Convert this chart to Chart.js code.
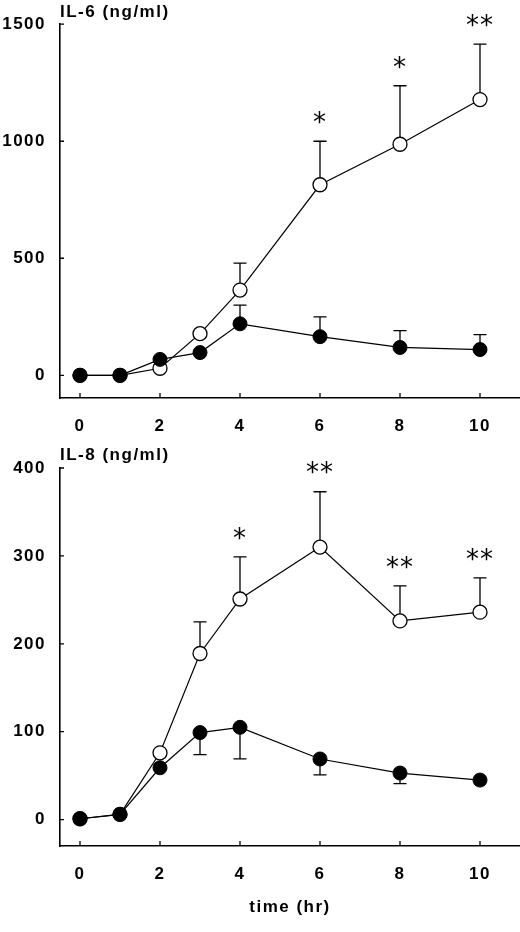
<!DOCTYPE html>
<html>
<head>
<meta charset="utf-8">
<script src="https://cdn.jsdelivr.net/npm/chart.js@4.4.0/dist/chart.umd.min.js"></script>
<style>
body { margin: 0; background: #fff; }
canvas { display: block; }
</style>
</head>
<body>
<canvas id="il6" width="520" height="440"></canvas>
<canvas id="il8" width="520" height="492"></canvas>
<script>
// sampling times (hr)
const times = [0, 1, 2, 3, 4, 6, 8, 10];
const xTicks = [0, 2, 4, 6, 8, 10];

// IL-6 panel
const il6Ticks = [0, 500, 1000, 1500];
const il6Open = [0, 0, 30, 178, 364, 814, 987, 1178];
const il6OpenErr = [0, 0, 0, 0, 115, 186, 250, 237];
const il6Filled = [0, 0, 68, 97, 220, 165, 119, 110];
const il6FilledErr = [0, 0, 0, 0, 80, 85, 72, 64];
const il6Stars = ["", "", "", "", "", "*", "*", "**"];

// IL-8 panel
const il8Ticks = [0, 100, 200, 300, 400];
const il8Open = [1, 6, 76, 189, 251, 310, 226, 236];
const il8OpenErr = [0, 0, 0, 36, 48, 63, 40, 39];
const il8Filled = [1, 6, 59, 99, 105, 69, 53, 45];
const il8FilledErr = [0, 0, 0, 25, 36, 18, 12, 0]; // drawn below the mean
const il8Stars = ["", "", "", "", "*", "**", "**", "**"];

const FONT = "'Liberation Sans', Arial, sans-serif";
const SPACING = "1.5px";

const errBars = {
    id: "errBars",
    beforeUpdate(chart) { chart.ctx.letterSpacing = SPACING; },
    beforeDraw(chart) { chart.ctx.letterSpacing = SPACING; },
    beforeDatasetsDraw(chart, args, opts) {
        const ctx = chart.ctx;
        const xs = chart.scales.x, ys = chart.scales.y;
        const area = chart.chartArea;
        ctx.save();
        ctx.strokeStyle = "#000";
        ctx.lineWidth = 1.3;
        // inward tick marks
        ctx.beginPath();
        xTicks.forEach((v) => {
            const x = xs.getPixelForValue(v);
            ctx.moveTo(x, area.bottom);
            ctx.lineTo(x, area.bottom - 5);
        });
        opts.yTicks.forEach((v) => {
            const y = ys.getPixelForValue(v);
            ctx.moveTo(area.left, y);
            ctx.lineTo(area.left + 4, y);
        });
        ctx.stroke();
        opts.bars.forEach((b) => {
            b.err.forEach((e, i) => {
                if (!e) return;
                const x = xs.getPixelForValue(times[i]);
                const y0 = ys.getPixelForValue(b.vals[i]);
                const y1 = ys.getPixelForValue(b.vals[i] + b.dir * e);
                ctx.beginPath();
                ctx.moveTo(x, y0);
                ctx.lineTo(x, y1);
                ctx.moveTo(x - 6.5, y1);
                ctx.lineTo(x + 6.5, y1);
                ctx.stroke();
            });
        });
        ctx.restore();
    },
    afterDraw(chart, args, opts) {
        const ctx = chart.ctx;
        const xs = chart.scales.x, ys = chart.scales.y;
        ctx.save();
        ctx.fillStyle = "#000";
        ctx.letterSpacing = "1px";
        ctx.font = "26px 'DejaVu Sans', sans-serif";
        ctx.textAlign = "center";
        ctx.textBaseline = "middle";
        opts.stars.forEach((s, i) => {
            if (!s) return;
            const x = xs.getPixelForValue(times[i]);
            const y = ys.getPixelForValue(opts.starBase[i] + opts.starErr[i]) - 17;
            ctx.fillText(s, x, y);
        });
        ctx.letterSpacing = SPACING;
        ctx.font = "bold 17px " + FONT;
        ctx.textAlign = "left";
        ctx.fillText(opts.label, 60, opts.labelY);
        ctx.restore();
    }
};

function makePanel(id, cfg) {
    const pts = (vals) => vals.map((v, i) => ({ x: times[i], y: v }));
    return new Chart(document.getElementById(id), {
        type: "line",
        data: {
            datasets: [{
                data: pts(cfg.filled),
                borderColor: "#000",
                borderWidth: 1.2,
                pointRadius: 7,
                pointBackgroundColor: "#000",
                pointBorderColor: "#000",
                pointBorderWidth: 1,
                tension: 0
            }, {
                data: pts(cfg.open),
                borderColor: "#000",
                borderWidth: 1.2,
                pointRadius: 7,
                pointBackgroundColor: "#fff",
                pointBorderColor: "#000",
                pointBorderWidth: 1.3,
                tension: 0
            }]
        },
        options: {
            responsive: false,
            animation: false,
            layout: { autoPadding: false, padding: { top: cfg.top, right: 0, left: 0, bottom: 0 } },
            plugins: {
                legend: { display: false },
                tooltip: { enabled: false },
                errBars: {
                    bars: [
                        { vals: cfg.filled, err: cfg.filledErr, dir: cfg.filledDir },
                        { vals: cfg.open, err: cfg.openErr, dir: 1 }
                    ],
                    yTicks: cfg.ticks,
                    stars: cfg.stars,
                    starBase: cfg.open,
                    starErr: cfg.openErr,
                    label: cfg.label,
                    labelY: cfg.labelY
                }
            },
            scales: {
                x: {
                    type: "linear",
                    min: -0.5,
                    max: 11,
                    afterBuildTicks: (s) => { s.ticks = xTicks.map((v) => ({ value: v })); },
                    afterFit: (s) => { s.height = cfg.xHeight; s.paddingLeft = 0; s.paddingRight = 0; },
                    grid: { drawOnChartArea: false, drawTicks: false },
                    border: { color: "#000", width: 1.6 },
                    ticks: { color: "#000", padding: 18, font: { family: FONT, size: 17, weight: "bold" } },
                    title: {
                        display: !!cfg.xTitle,
                        text: cfg.xTitle || "",
                        color: "#000",
                        padding: { top: 0, bottom: 14 },
                        font: { family: FONT, size: 17, weight: "bold" }
                    }
                },
                y: {
                    min: cfg.min,
                    max: cfg.max,
                    afterBuildTicks: (s) => { s.ticks = cfg.ticks.map((v) => ({ value: v })); },
                    afterFit: (s) => { s.width = 60; },
                    grid: { drawOnChartArea: false, drawTicks: false },
                    border: { color: "#000", width: 1.6 },
                    ticks: {
                        color: "#000",
                        padding: 14,
                        callback: (v) => String(v),
                        font: { family: FONT, size: 17, weight: "bold" }
                    }
                }
            }
        },
        plugins: [errBars]
    });
}

makePanel("il6", {
    filled: il6Filled, filledErr: il6FilledErr, filledDir: 1,
    open: il6Open, openErr: il6OpenErr, stars: il6Stars,
    ticks: il6Ticks, min: -97, max: 1500,
    top: 20, xHeight: 42, label: "IL-6 (ng/ml)", labelY: 12
});

makePanel("il8", {
    filled: il8Filled, filledErr: il8FilledErr, filledDir: -1,
    open: il8Open, openErr: il8OpenErr, stars: il8Stars,
    ticks: il8Ticks, min: -30, max: 400,
    top: 28, xHeight: 86, label: "IL-8 (ng/ml)", labelY: 15,
    xTitle: "time (hr)"
});
</script>
</body>
</html>
